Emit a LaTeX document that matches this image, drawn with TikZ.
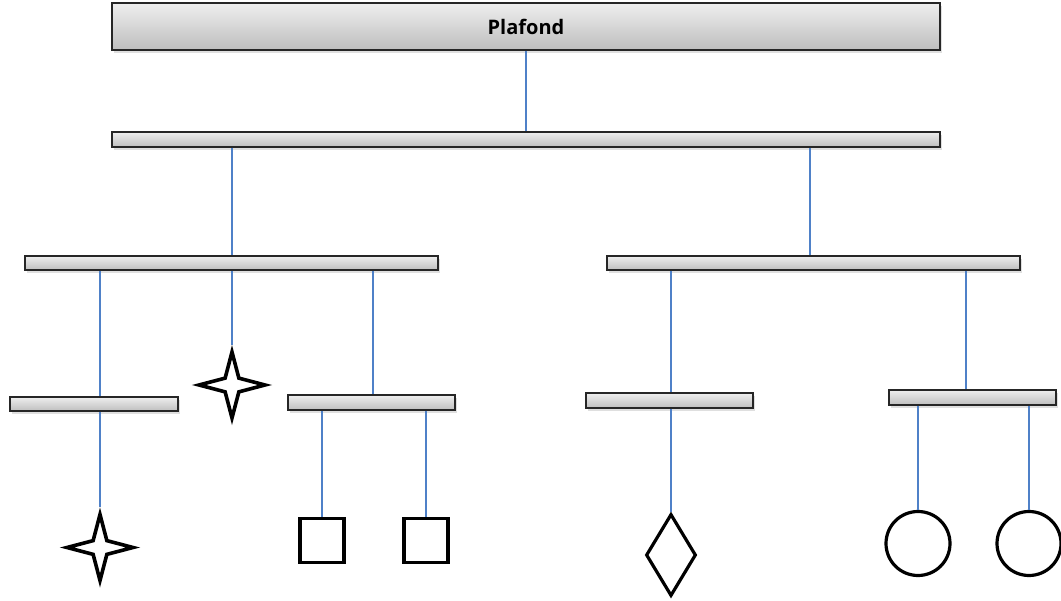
\documentclass[tikz,border=0pt]{standalone}
\usepackage{fontspec}
\setmainfont{Open Sans}
\usetikzlibrary{shapes.geometric,shadows}
\definecolor{conn}{RGB}{79,129,200}
\definecolor{bartop}{RGB}{238,238,238}
\definecolor{barbot}{RGB}{190,190,190}
\tikzset{
  bar/.style={rectangle, draw=black!85, line width=1.4pt, inner sep=0pt,
    top color=bartop, bottom color=barbot,
    drop shadow={shadow xshift=2pt, shadow yshift=-3pt, opacity=0.25}},
  conline/.style={conn, line width=1.4pt},
  sym/.style={draw=black, line width=3.2pt, inner sep=0pt, fill=white},
  fourstar/.style={sym, star, star points=4, star point ratio=3.4, minimum size=66pt, line width=3.6pt},
}
\begin{document}
\begin{tikzpicture}[x=1pt,y=-1pt]
\useasboundingbox (0,0) rectangle (1061,601);
% bars
\node[bar, minimum width=828pt, minimum height=47pt] (plafond) at (526,26.5) {\bfseries\fontsize{20pt}{24pt}\selectfont Plafond};
\node[bar, minimum width=828pt, minimum height=15pt] (b2) at (526,139.5) {};
\node[bar, minimum width=413pt, minimum height=14pt] (b3l) at (231.5,263) {};
\node[bar, minimum width=413pt, minimum height=14pt] (b3r) at (813.5,263) {};
\node[bar, minimum width=168pt, minimum height=14pt] (b4a) at (94,404) {};
\node[bar, minimum width=167pt, minimum height=15pt] (b4b) at (371.5,402.5) {};
\node[bar, minimum width=167pt, minimum height=15pt] (b4c) at (669.5,400.5) {};
\node[bar, minimum width=167pt, minimum height=15pt] (b4d) at (972.5,397.5) {};
% symbols
\node[fourstar] (s1) at (232,385) {};
\node[fourstar] (s2) at (100,547.5) {};
\node[sym, rectangle, minimum size=44pt, line width=3.5pt] (q1) at (322,540.5) {};
\node[sym, rectangle, minimum size=44pt, line width=3.5pt] (q2) at (426,540.5) {};
\node[sym, diamond, minimum width=50pt, minimum height=82pt] (d1) at (671,555) {};
\node[sym, circle, minimum size=64pt] (c1) at (918,543.5) {};
\node[sym, circle, minimum size=64pt] (c2) at (1029,543.5) {};
% connectors
\draw[conline] (plafond.south) -- (b2.north);
\draw[conline] (s1.north |- b2.south) -- (s1.north |- b3l.north);
\draw[conline] ([xshift=-3.5pt]b3r.north |- b2.south) -- ([xshift=-3.5pt]b3r.north);
\draw[conline] ([xshift=6pt]b4a.north |- b3l.south) -- ([xshift=6pt]b4a.north);
\draw[conline] (b3l.south -| s1.north) -- (s1.north);
\draw[conline] ([xshift=1.5pt]b4b.north |- b3l.south) -- ([xshift=1.5pt]b4b.north);
\draw[conline] ([xshift=1.5pt]b4c.north |- b3r.south) -- ([xshift=1.5pt]b4c.north);
\draw[conline] ([xshift=-6.5pt]b4d.north |- b3r.south) -- ([xshift=-6.5pt]b4d.north);
\draw[conline] (b4a.south -| s2.north) -- (s2.north);
\draw[conline] (b4b.south -| q1.north) -- (q1.north);
\draw[conline] (b4b.south -| q2.north) -- (q2.north);
\draw[conline] (b4c.south -| d1.north) -- (d1.north);
\draw[conline] (b4d.south -| c1.north) -- (c1.north);
\draw[conline] (b4d.south -| c2.north) -- (c2.north);
\end{tikzpicture}
\end{document}
